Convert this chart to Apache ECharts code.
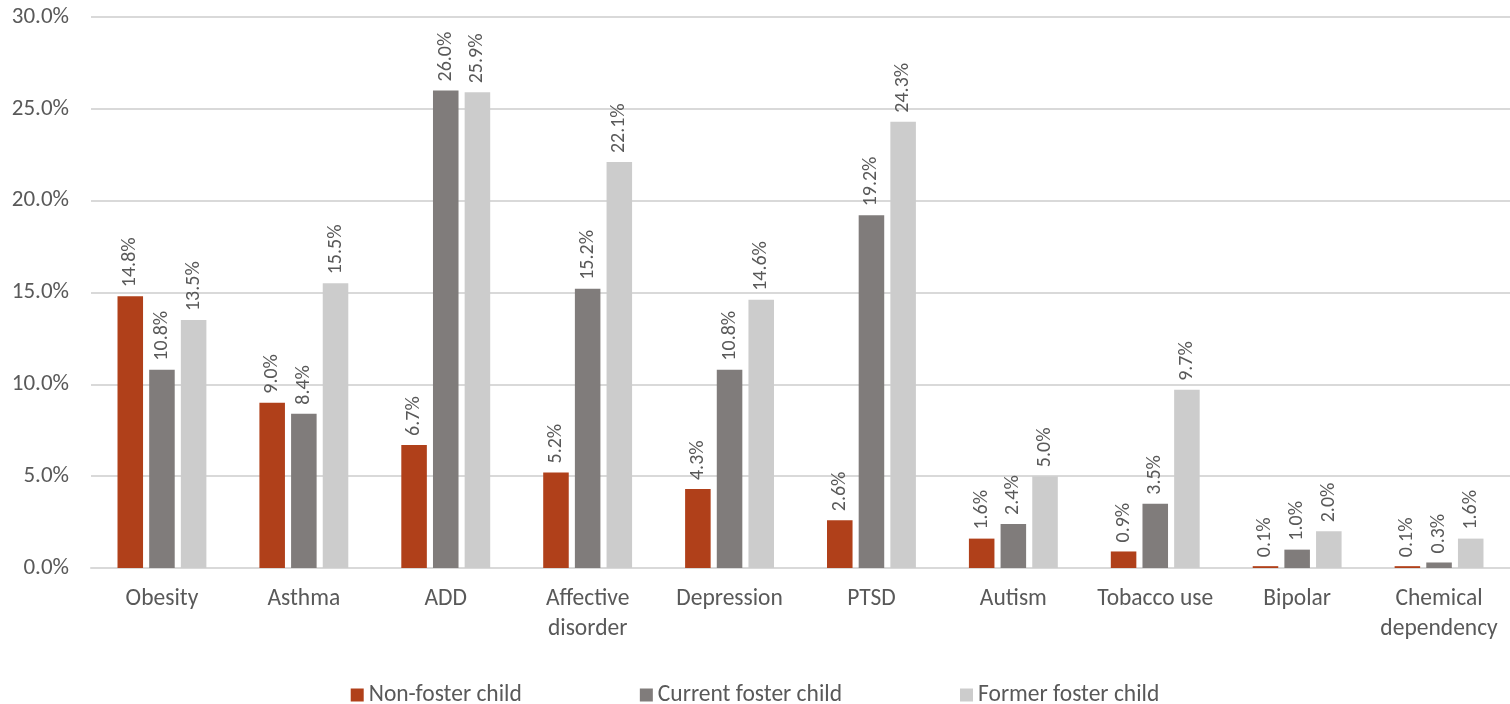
<!DOCTYPE html>
<html>
<head>
<meta charset="utf-8">
<script src="https://cdn.jsdelivr.net/npm/echarts@6/dist/echarts.min.js"></script>
<style>
  html, body { margin: 0; padding: 0; background: #ffffff; }
  #chart { width: 1510px; height: 704px; }
</style>
</head>
<body>
<div id="chart"></div>
<script>
// Health conditions by foster-care status (percent of children)
const categories = ['Obesity', 'Asthma', 'ADD', 'Affective\ndisorder', 'Depression', 'PTSD',
  'Autism', 'Tobacco use', 'Bipolar', 'Chemical\ndependency'];
const nonFoster = [14.8, 9.0, 6.7, 5.2, 4.3, 2.6, 1.6, 0.9, 0.1, 0.1];
const currentFoster = [10.8, 8.4, 26.0, 15.2, 10.8, 19.2, 2.4, 3.5, 1.0, 0.3];
const formerFoster = [13.5, 15.5, 25.9, 22.1, 14.6, 24.3, 5.0, 9.7, 2.0, 1.6];
const seriesNames = ['Non-foster child', 'Current foster child', 'Former foster child'];
const yTicks = { min: 0, max: 30, interval: 5 };

const FONT = 'Carlito, Lato, "Open Sans", sans-serif';
const TEXT = '#595959';
const colors = ['#b0401a', '#807c7b', '#cccccc'];

const chart = echarts.init(document.getElementById('chart'));

function barSeries(name, data, color) {
  return {
    name: name,
    type: 'bar',
    data: data,
    itemStyle: { color: color },
    barWidth: '18%',
    barGap: '24%',
    label: {
      show: true,
      position: 'top',
      rotate: 90,
      align: 'left',
      verticalAlign: 'middle',
      distance: 9,
      color: TEXT,
      fontFamily: FONT,
      fontSize: 20,
      formatter: p => p.value.toFixed(1) + '%'
    }
  };
}

chart.setOption({
  animation: false,
  textStyle: { fontFamily: FONT },
  grid: { left: 91, right: 0, top: 17, bottom: 136, containLabel: false },
  legend: {
    top: 678,
    left: 'center',
    itemWidth: 13,
    itemHeight: 13,
    itemGap: 118,
    icon: 'rect',
    textStyle: { color: TEXT, fontSize: 23.5, fontFamily: FONT },
    data: seriesNames
  },
  xAxis: {
    type: 'category',
    data: categories,
    axisLine: { lineStyle: { color: '#d9d9d9', width: 2 } },
    axisTick: { show: false },
    axisLabel: {
      color: TEXT,
      fontSize: 23.5,
      fontFamily: FONT,
      lineHeight: 30,
      margin: 16,
      interval: 0
    }
  },
  yAxis: {
    type: 'value',
    min: yTicks.min,
    max: yTicks.max,
    interval: yTicks.interval,
    axisLine: { show: false },
    axisTick: { show: false },
    splitLine: { lineStyle: { color: '#d9d9d9', width: 2 } },
    axisLabel: {
      color: TEXT,
      fontSize: 23,
      fontFamily: FONT,
      margin: 22,
      formatter: v => v.toFixed(1) + '%'
    }
  },
  series: [
    barSeries(seriesNames[0], nonFoster, colors[0]),
    barSeries(seriesNames[1], currentFoster, colors[1]),
    barSeries(seriesNames[2], formerFoster, colors[2])
  ]
});
</script>
</body>
</html>
